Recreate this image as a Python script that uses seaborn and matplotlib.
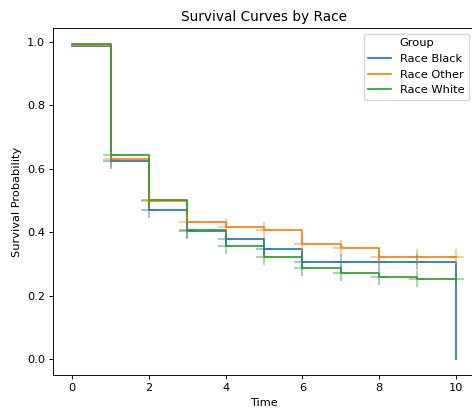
import numpy as np
import pandas as pd
import matplotlib
matplotlib.use("Agg")
import matplotlib.pyplot as plt
import seaborn as sns

# Survival estimates at t = 0..10
times = [0, 1, 2, 3, 4, 5, 6, 7, 8, 9, 10]
surv_black = [0.987, 0.623, 0.471, 0.405, 0.379, 0.347, 0.306, 0.306, 0.306, 0.306, 0.0]
surv_other = [0.990, 0.630, 0.497, 0.433, 0.416, 0.407, 0.363, 0.350, 0.323, 0.323, 0.323]
surv_white = [0.993, 0.643, 0.502, 0.407, 0.357, 0.322, 0.287, 0.272, 0.260, 0.252, 0.252]
groups = ["Race Black", "Race Other", "Race White"]

# censor marks (time indices) per group
censor_black = [1, 2, 3, 4, 5, 6, 7, 8, 9]
censor_other = [1, 2, 3, 4, 5, 6, 7, 8, 9, 10]
censor_white = [1, 2, 3, 4, 5, 6, 7, 8, 9, 10]

df = pd.concat([
    pd.DataFrame({"Time": times, "Survival Probability": s, "Group": g})
    for g, s in zip(groups, [surv_black, surv_other, surv_white])
], ignore_index=True)

cens = pd.concat([
    pd.DataFrame({"Time": [times[i] for i in idx],
                  "Survival Probability": [s[i] for i in idx],
                  "Group": g})
    for g, s, idx in zip(groups, [surv_black, surv_other, surv_white],
                         [censor_black, censor_other, censor_white])
], ignore_index=True)

palette = dict(zip(groups, ["#1f77b4", "#ff7f0e", "#2ca02c"]))

# reference looks like a default mpl figure shrunk by ~0.82
k = 0.82
plt.rcParams.update({
    "font.size": 10 * k,
    "axes.titlesize": 12 * k,
    "axes.labelsize": 10 * k,
    "axes.titlepad": 6 * k,
    "axes.labelpad": 4 * k,
    "axes.linewidth": 0.8 * k,
    "lines.linewidth": 1.5 * k,
    "xtick.major.size": 3.5 * k,
    "ytick.major.size": 3.5 * k,
    "xtick.major.width": 0.8 * k,
    "ytick.major.width": 0.8 * k,
    "xtick.major.pad": 3.5 * k,
    "ytick.major.pad": 3.5 * k,
    "legend.edgecolor": "0.8",
})

fig = plt.figure(figsize=(4.72, 4.17), dpi=100)
ax = fig.add_axes([0.1123, 0.1007, 0.894, 0.832])

sns.lineplot(data=df, x="Time", y="Survival Probability", hue="Group",
             palette=palette, drawstyle="steps-post", linewidth=1.5 * k,
             estimator=None, ax=ax)

for g in groups:
    sub = cens[cens["Group"] == g]
    ax.plot(sub["Time"], sub["Survival Probability"], linestyle="none",
            marker="+", markersize=11.5, markeredgewidth=1.2,
            color=palette[g], alpha=0.5)

ax.set_title("Survival Curves by Race")
ax.set_xlabel("Time")
ax.set_ylabel("Survival Probability")
ax.set_xlim(-0.5, 10.5)
ax.legend(title="Group", loc="upper right")

fig.savefig("out.png", dpi=100)
